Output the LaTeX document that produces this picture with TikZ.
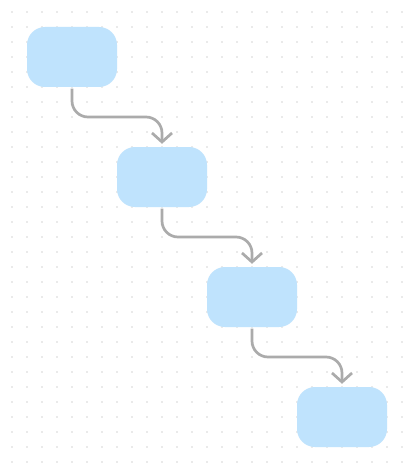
\documentclass[tikz,border=0pt]{standalone}
\usetikzlibrary{arrows.meta,calc}
\definecolor{boxblue}{HTML}{BFE3FD}
\definecolor{conngray}{HTML}{ABABAB}
\definecolor{dotgray}{HTML}{D6D6D6}
\tikzset{
  stepbox/.style={fill=boxblue, draw=none, rounded corners=18pt, minimum width=90pt, minimum height=60pt, inner sep=0pt},
  conn/.style={draw=conngray, line width=2.7pt, rounded corners=16pt, shorten <=1.5pt, shorten >=3pt,
    -{Straight Barb[length=9pt,width=20pt,line width=2.7pt]}},
}
\begin{document}
\begin{tikzpicture}[x=1pt,y=-1pt]
\useasboundingbox (0,0) rectangle (407,468);
\fill[white] (0,0) rectangle (407,468);
\foreach \i in {0,...,26}{
  \foreach \j in {0,...,30}{
    \fill[dotgray] (12+15*\i,12+15*\j) circle (0.9pt);
  }
}
\node[stepbox] (b1) at (72,57) {};
\node[stepbox] (b2) at (162,177) {};
\node[stepbox] (b3) at (252,297) {};
\node[stepbox] (b4) at (342,417) {};
\draw[conn] (b1.south) |- ($(b1.south)!.5!(b2.north)$) -| (b2.north);
\draw[conn] (b2.south) |- ($(b2.south)!.5!(b3.north)$) -| (b3.north);
\draw[conn] (b3.south) |- ($(b3.south)!.5!(b4.north)$) -| (b4.north);
\end{tikzpicture}
\end{document}
